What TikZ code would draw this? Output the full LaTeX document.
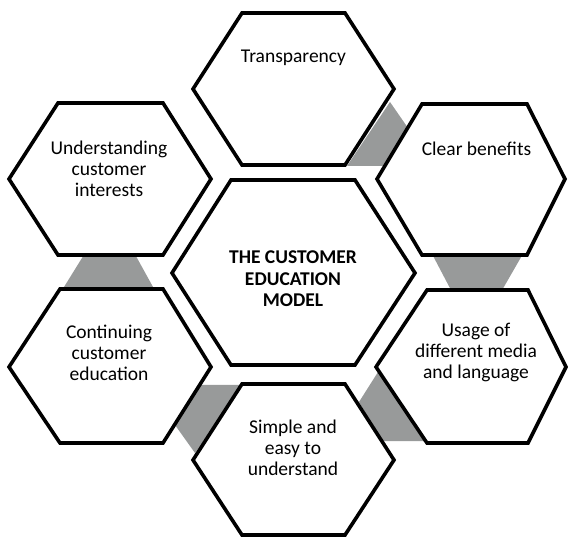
\documentclass[tikz,border=0pt]{standalone}
\usepackage{fontspec}
\setmainfont{Carlito}
\definecolor{conngrey}{RGB}{152,154,154}
\begin{document}
\begin{tikzpicture}[x=1pt,y=-1pt,
  hexa/.style={draw=black, line width=3.6pt, fill=white, line join=miter},
  conn/.style={fill=conngrey, draw=none},
  lbl/.style={align=center, font=\fontsize{19.5}{21}\selectfont, inner sep=0pt},
  ctr/.style={align=center, font=\fontsize{19.5}{21.5}\selectfont\bfseries, inner sep=0pt}]
\useasboundingbox (0,0) rectangle (568,537);
% grey connectors
\fill[conn] (390,102) -- (408,128) -- (383,166) -- (347,166) -- cycle;
\fill[conn] (431,252) -- (524,252) -- (501,292) -- (452,292) -- cycle;
\fill[conn] (85.7,252) -- (133.7,252) -- (155.8,292) -- (60.9,292) -- cycle;
\fill[conn] (200,385) -- (242,385) -- (195,453) -- (175,425) -- cycle;
\fill[conn] (378,372) -- (424,441) -- (382,441) -- (359,402) -- cycle;
% hexagons
\draw[hexa] (193,89) -- (242,13) -- (345,13) -- (394,89) -- (345,165) -- (242,165) -- cycle;
\draw[hexa] (377,179) -- (422,104) -- (527,104) -- (565,179) -- (527,255) -- (422,255) -- cycle;
\draw[hexa] (376,367) -- (427,290) -- (528,290) -- (566,367) -- (528,443) -- (427,443) -- cycle;
\draw[hexa] (193,460) -- (242,384) -- (345,384) -- (394,460) -- (345,535) -- (242,535) -- cycle;
\draw[hexa] (9,367) -- (60,289) -- (163,289) -- (211,367) -- (163,443) -- (60,443) -- cycle;
\draw[hexa] (9,179) -- (58,103) -- (163,103) -- (211,179) -- (163,255) -- (58,255) -- cycle;
\draw[hexa] (172,273) -- (231,180) -- (355,180) -- (415,273) -- (355,365) -- (231,365) -- cycle;
% labels
\node[lbl] (t) at (293.5,58) {Transparency};
\node[lbl] (cb) at (476.5,149) {Clear benefits};
\node[lbl] (u) at (476,352) {Usage of\\different media\\and language};
\node[lbl] (s) at (293,448) {Simple and\\easy to\\understand};
\node[lbl] (c) at (109,353) {Continuing\\customer\\education};
\node[lbl] (uc) at (109,169) {Understanding\\customer\\interests};
\node[ctr] (m) at (293,279) {THE CUSTOMER\\EDUCATION\\MODEL};
\end{tikzpicture}
\end{document}
